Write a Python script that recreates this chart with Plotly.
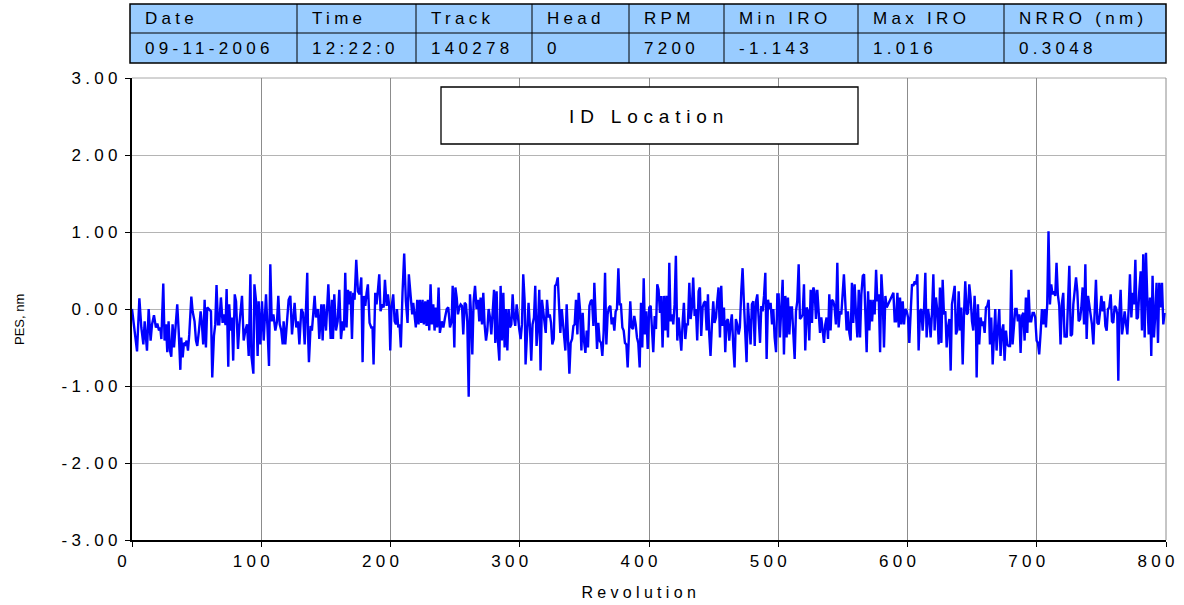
import plotly.graph_objects as go

# ---- data ----
rev = [
 0.0, 3.9, 5.7, 7.2, 8.8, 9.8, 11.6, 12.9, 14.4, 15.5, 17.0, 18.5, 19.6, 20.9, 21.9, 22.7, 24.2, 25.2, 26.3, 27.3,
 28.3, 29.4, 30.4, 31.4, 32.5, 35.0, 36.1, 37.4, 38.1, 39.2, 40.2, 41.2, 42.3, 43.3, 44.3, 45.9, 46.9, 48.4, 49.5, 50.5,
 51.8, 53.1, 54.1, 55.1, 56.2, 57.2, 58.2, 59.5, 61.1, 62.1, 63.4, 64.4, 65.4, 66.5, 67.5, 68.8, 70.1, 71.1, 72.4, 73.2,
 74.5, 75.2, 76.3, 77.3, 78.3,
 79.5, 80.5, 82.0, 83.1, 85.1, 86.4, 87.7, 89.0, 90.3, 91.6, 92.4, 93.9, 94.7, 96.0, 97.2, 98.0, 99.3, 100.6, 101.9, 103.7,
 104.7, 106.0, 107.0, 108.1, 109.4, 110.9, 112.2, 113.2, 114.3, 115.5, 116.6, 117.3, 118.6, 119.9, 121.2, 122.5, 123.8, 125.8, 127.1, 128.4,
 129.5, 131.0, 132.3, 133.6, 135.6, 136.2, 136.9, 138.2, 139.2, 141.3, 142.3, 143.9, 144.9, 146.5, 147.5, 148.5, 150.1, 151.9, 153.7, 154.7,
 155.5, 156.5, 157.8,
 159.1, 160.4, 161.7, 163.0, 164.0, 165.0, 166.0, 167.1, 168.1, 169.1, 170.2, 171.2, 172.2, 173.5, 174.8, 176.1, 177.4, 178.4, 179.4, 180.5,
 181.5, 182.5, 183.8, 185.1, 186.1, 186.9, 188.2, 189.2, 190.3, 191.3, 192.3, 193.6, 194.7, 195.7, 197.0, 198.0, 199.0, 199.8, 200.8, 202.1,
 203.2, 204.2, 205.0, 206.0, 207.0, 208.0, 209.3, 210.6, 211.9, 213.2, 214.2, 215.5, 216.8, 217.6, 218.6, 219.6, 220.7, 221.7, 222.7, 223.8,
 224.8, 225.8, 226.9, 227.9, 228.9, 230.0, 231.0, 232.0, 233.1, 234.1, 235.1, 236.1, 237.2, 238.2,
 239.6, 240.9, 242.2, 243.5, 244.7, 246.0, 247.3, 248.1, 249.4, 250.2, 251.2, 252.2, 253.2, 254.3, 255.3, 256.3, 257.4, 258.4, 259.4, 260.5,
 261.5, 262.5, 263.3, 264.3, 265.4, 266.6, 267.7, 268.7, 269.7, 270.8, 271.8, 272.8, 273.9, 274.9, 275.9, 277.0, 278.0, 279.0, 280.1, 281.1,
 282.1, 283.1, 284.2, 285.2, 286.2, 287.3, 288.3, 289.3, 290.4, 291.4, 292.4, 293.5, 294.5, 295.5, 296.5, 297.6, 298.9, 299.6, 300.7, 301.7,
 302.7, 303.8, 304.5, 305.8, 306.8, 307.9, 308.9, 309.9, 311.0, 312.0, 313.0, 314.1, 315.1, 316.1, 317.2, 318.2,
 320.1, 321.1, 322.2, 323.2, 324.2, 325.2, 326.3, 327.3, 328.3, 329.4, 330.4, 331.4, 332.5, 333.5, 334.5, 335.3, 336.3, 337.4, 338.4, 339.4,
 340.5, 341.5, 342.5, 343.5, 344.6, 345.6, 346.6, 347.7, 348.7, 349.7, 350.8, 351.8, 352.8, 353.9, 354.9, 355.9, 357.0, 357.7, 358.7, 359.8,
 360.8, 361.8, 362.9, 363.9, 364.9, 366.0, 367.0, 368.0, 369.0, 370.1, 371.1, 372.1, 373.2, 374.2, 375.2, 376.3, 377.3, 378.3, 379.4, 380.4,
 381.4, 382.5, 383.5, 384.5, 385.5, 386.6, 387.6, 388.6, 389.7, 390.7, 391.7, 392.8, 393.8, 394.8, 395.9, 396.9, 397.9, 399.0,
 400.2, 401.3, 402.3, 403.3, 404.4, 405.4, 406.4, 407.4, 408.5, 409.5, 410.5, 411.6, 412.6, 413.6, 414.7, 415.7, 416.7, 417.8, 418.8, 419.8,
 420.8, 421.9, 422.9, 423.9, 425.0, 426.0, 427.0, 428.1, 429.1, 430.1, 431.2, 432.2, 433.2, 434.2, 435.3, 436.3, 437.3, 438.4, 439.4, 440.4,
 441.5, 442.5, 443.5, 444.6, 445.6, 446.6, 447.6, 448.7, 449.7, 450.7, 451.8, 452.8, 453.8, 454.9, 455.9, 456.9, 458.0, 459.0, 460.0, 461.0,
 462.1, 463.1, 464.1, 465.2, 466.2, 467.2, 468.3, 469.3, 470.3, 471.4, 472.4, 473.4, 474.4, 475.5, 476.5, 477.5, 478.6, 479.6,
 480.7, 481.8, 482.8, 483.8, 484.9, 485.9, 486.9, 487.9, 489.0, 490.0, 491.0, 492.1, 493.1, 494.1, 495.2, 496.2, 497.2, 498.3, 499.3, 500.3,
 501.3, 502.4, 503.4, 504.4, 505.5, 506.5, 507.5, 508.6, 509.6, 510.6, 511.7, 512.7, 513.7, 514.7, 515.8, 516.8, 517.8, 518.9, 519.9, 520.9,
 522.0, 523.0, 524.0, 525.1, 526.1, 527.1, 528.1, 529.2, 530.2, 531.2, 532.3, 533.3, 534.3, 535.4, 536.4, 537.4, 538.5, 539.5, 540.5, 541.5,
 542.6, 543.6, 544.6, 545.7, 546.7, 547.7, 548.8, 549.8, 550.8, 551.9, 552.9, 553.9, 555.0, 556.0, 557.0, 558.0, 559.1, 560.1,
 561.2, 562.3, 563.3, 564.3, 565.4, 566.4, 567.4, 568.4, 569.5, 570.5, 571.5, 572.6, 573.6, 574.6, 575.7, 576.7, 577.7, 578.8, 579.8, 580.8,
 581.8, 582.9, 583.9, 584.9, 586.0, 587.0, 588.0, 589.1, 590.1, 591.1, 592.2, 593.2, 594.2, 595.2, 596.3, 597.3, 598.3, 599.4, 600.4, 601.4,
 602.5, 603.5, 604.5, 605.6, 606.6, 607.6, 608.6, 609.7, 610.7, 611.7, 612.8, 613.8, 614.8, 615.9, 616.9, 617.9, 619.0, 620.0, 621.0, 622.0,
 623.1, 624.1, 625.1, 626.2, 627.2, 628.2, 629.3, 630.3, 631.3, 632.4, 633.4, 634.4, 635.4, 636.5, 637.5, 638.5, 639.6, 640.6,
 641.6, 642.7, 643.7, 644.7, 645.8, 646.8, 647.8, 648.8, 649.9, 650.9, 651.9, 653.0, 653.5, 654.5, 655.5, 656.6, 657.6, 658.6, 659.7, 660.7,
 661.7, 662.8, 663.8, 664.8, 665.9, 666.9, 667.9, 668.9, 670.0, 671.0, 672.0, 673.1, 674.1, 675.1, 676.2, 677.2, 678.2, 679.3, 680.3, 681.3,
 682.3, 683.4, 684.4, 685.4, 686.5, 687.5, 688.5, 689.6, 690.6, 691.6, 692.7, 693.7, 694.7, 695.7, 696.8, 697.8, 698.8, 699.9, 700.9, 701.9,
 703.0, 704.0, 705.0, 706.1, 707.1, 708.1, 709.1, 710.2, 711.2, 712.2, 713.3, 714.3, 715.3, 716.3, 717.4, 718.4, 719.5, 720.5, 721.5,
 722.1, 723.2, 724.2, 725.2, 726.3, 727.3, 728.3, 729.3, 730.4, 731.4, 732.4, 733.5, 734.5, 735.5, 736.6, 737.6, 738.6, 739.7, 740.7, 741.7,
 742.7, 743.8, 744.8, 745.8, 746.9, 747.9, 748.9, 750.0, 751.0, 752.0, 753.1, 754.1, 755.1, 756.1, 757.2, 758.2, 759.2, 760.3, 761.3, 762.3,
 763.1, 763.9, 764.9, 766.0, 767.0, 768.0, 769.0, 770.1, 771.1, 772.1, 773.2, 774.2, 775.2, 776.3, 777.3, 778.3, 779.3, 780.4, 781.4, 782.4,
 783.5, 784.5, 785.5, 786.6, 787.6, 788.6, 789.6, 790.7, 791.7, 792.7, 793.8, 794.8, 795.8, 796.9, 797.9, 798.9,
]

pes = [
 0.00, -0.55, 0.14, -0.24, -0.46, -0.16, -0.54, 0.00, -0.41, -0.20, -0.08, -0.24, -0.19, -0.28, -0.24, -0.39, 0.33, -0.41, -0.20, -0.56,
 -0.16, -0.54, -0.62, -0.20, -0.50, 0.06, -0.28, -0.79, -0.37, -0.63, -0.44, -0.46, -0.41, -0.54, -0.33, 0.16, -0.03, -0.16, -0.41, -0.48,
 -0.28, -0.03, -0.20, -0.46, 0.12, -0.50, 0.02, 0.00, -0.03, -0.89, -0.35, -0.20, 0.31, -0.20, -0.20, 0.15, -0.18, -0.07, -0.21, 0.26,
 -0.75, 0.06, -0.28, -0.11, -0.67,
 0.19, 0.10, -0.52, -0.20, 0.17, -0.41, -0.28, -0.20, -0.61, 0.45, -0.61, -0.84, 0.32, 0.10, -0.61, 0.10, -0.46, 0.10, -0.41, 0.19,
 -0.20, -0.74, 0.58, -0.16, -0.07, -0.28, -0.16, 0.17, -0.20, -0.28, -0.46, -0.16, -0.46, -0.18, 0.12, 0.17, -0.33, 0.08, -0.24, -0.16,
 -0.46, 0.00, -0.05, -0.46, 0.47, -0.33, -0.69, -0.22, -0.28, 0.17, -0.11, 0.00, -0.39, 0.06, -0.41, 0.06, -0.28, 0.32, -0.39, 0.12,
 -0.39, 0.19, -0.28,
 -0.16, 0.25, -0.39, -0.16, -0.28, 0.47, -0.24, 0.25, 0.06, 0.23, -0.39, 0.21, 0.12, 0.64, 0.23, 0.19, 0.41, -0.69, 0.17, 0.04,
 0.21, 0.32, -0.18, -0.24, -0.24, -0.72, 0.21, 0.06, 0.25, 0.45, -0.03, 0.06, 0.02, 0.38, 0.04, 0.19, 0.04, -0.54, 0.02, 0.19,
 -0.16, -0.20, 0.00, -0.24, -0.20, -0.50, 0.21, 0.72, 0.10, -0.18, 0.45, 0.12, -0.07, 0.08, -0.05, -0.24, 0.12, -0.20, 0.12, -0.18,
 0.12, -0.20, 0.10, -0.22, 0.12, -0.28, 0.32, -0.20, 0.06, -0.28, 0.02, -0.24, 0.28, -0.31,
 -0.16, -0.24, -0.11, 0.00, 0.02, -0.24, -0.16, 0.30, -0.50, 0.28, 0.15, -0.07, 0.02, 0.06, 0.04, -0.33, 0.08, 0.06, -0.16, -1.14,
 0.19, -0.11, -0.59, 0.10, 0.30, 0.00, 0.12, -0.16, 0.15, -0.20, 0.21, -0.20, -0.41, -0.28, 0.00, -0.11, -0.33, 0.02, 0.25, -0.44,
 0.23, -0.41, -0.67, 0.30, -0.41, 0.21, -0.50, 0.00, -0.54, 0.00, -0.24, -0.20, 0.19, -0.11, -0.22, 0.06, -0.20, -0.26, -0.39, -0.20,
 0.45, 0.10, -0.72, -0.20, 0.08, -0.24, -0.67, -0.20, -0.11, 0.30, -0.48, -0.22, 0.25, -0.80, 0.12, -0.03,
 -0.31, 0.12, -0.11, -0.07, -0.18, -0.46, -0.39, 0.30, 0.32, 0.41, 0.06, -0.31, 0.00, -0.18, -0.33, -0.54, 0.06, -0.46, -0.84, -0.44,
 -0.39, -0.22, -0.20, 0.12, -0.33, 0.21, 0.00, -0.54, -0.05, -0.41, -0.57, -0.28, -0.50, 0.04, 0.10, 0.12, -0.22, 0.34, -0.22, -0.52,
 -0.18, -0.41, -0.44, -0.61, -0.31, 0.47, -0.46, -0.07, 0.02, 0.04, -0.20, -0.11, -0.28, -0.03, 0.00, 0.53, 0.06, 0.06, -0.24, -0.28,
 -0.44, -0.46, -0.76, -0.24, 0.10, -0.24, -0.26, -0.09, -0.20, -0.37, -0.44, -0.76, 0.08, -0.50, 0.40, -0.33, -0.03, -0.52,
 0.02, 0.04, -0.31, -0.56, -0.09, -0.26, 0.32, 0.25, -0.05, 0.17, -0.50, 0.17, -0.28, 0.17, -0.37, 0.60, -0.16, -0.07, -0.20, 0.06,
 0.69, -0.41, -0.11, -0.28, -0.54, -0.18, 0.08, -0.39, -0.20, -0.20, 0.34, -0.13, 0.02, 0.41, -0.09, 0.00, -0.41, 0.23, 0.28, -0.35,
 0.02, 0.08, 0.10, -0.28, 0.19, -0.33, -0.61, -0.20, 0.10, -0.18, -0.11, 0.10, 0.28, -0.37, 0.30, -0.22, 0.02, -0.56, -0.16, -0.13,
 -0.41, -0.20, -0.07, -0.48, -0.76, -0.13, -0.20, -0.33, -0.24, 0.23, 0.53, 0.10, -0.26, -0.69, 0.08, -0.20, -0.46, 0.06,
 0.10, -0.48, 0.10, 0.19, -0.20, -0.44, 0.04, -0.03, 0.17, 0.47, -0.65, 0.12, 0.00, 0.08, -0.20, 0.00, -0.37, -0.56, 0.19, 0.19,
 -0.37, -0.03, 0.38, -0.59, 0.17, -0.37, 0.15, -0.33, 0.02, 0.02, -0.41, -0.65, -0.03, 0.10, 0.58, -0.13, -0.11, -0.07, 0.32, -0.54,
 0.02, -0.03, -0.41, 0.25, -0.18, 0.28, 0.23, -0.13, 0.25, 0.02, -0.31, -0.11, -0.31, -0.44, -0.20, -0.11, -0.39, 0.19, -0.28, 0.12,
 0.10, 0.02, -0.20, 0.60, -0.24, -0.03, -0.07, 0.17, 0.45, 0.08, -0.28, -0.03, -0.31, -0.41, 0.34, -0.18, 0.32, -0.05,
 -0.37, 0.25, -0.37, 0.19, 0.43, 0.45, -0.03, -0.56, 0.23, -0.28, 0.12, -0.16, 0.12, -0.07, 0.51, 0.10, 0.19, -0.56, 0.45, 0.15,
 -0.50, 0.17, 0.02, 0.06, 0.10, 0.15, 0.19, 0.21, -0.16, -0.16, 0.21, -0.24, 0.15, -0.20, 0.10, -0.20, 0.00, -0.03, -0.11, -0.44,
 -0.03, 0.32, 0.30, 0.36, 0.32, 0.45, -0.54, -0.03, 0.00, -0.28, 0.00, 0.47, -0.37, 0.00, -0.13, -0.37, -0.03, 0.45, -0.28, 0.15,
 -0.03, -0.46, 0.28, -0.44, 0.38, -0.07, -0.03, -0.50, -0.24, -0.13, -0.80, 0.06, 0.17, 0.30, -0.33, -0.28, 0.23, -0.28,
 0.02, -0.72, -0.07, 0.36, -0.07, -0.05, 0.32, 0.15, -0.16, -0.28, 0.17, -0.24, -0.89, 0.06, -0.46, -0.11, -0.22, -0.16, -0.31, 0.02,
 0.04, 0.12, -0.46, -0.11, -0.72, -0.33, 0.00, -0.54, -0.16, 0.00, -0.61, -0.28, -0.20, -0.67, -0.28, -0.46, -0.48, -0.48, 0.51, -0.46,
 -0.24, 0.00, 0.00, -0.16, -0.07, -0.57, -0.09, -0.05, -0.41, 0.15, -0.31, 0.25, -0.16, -0.16, -0.05, -0.05, -0.11, -0.41, -0.44, -0.59,
 -0.31, 0.00, -0.20, 0.00, -0.24, 0.06, 1.01, 0.06, 0.32, 0.19, 0.23, 0.17, 0.60, 0.19, 0.04, -0.46, 0.08, 0.21, -0.37,
 -0.33, -0.37, 0.02, 0.56, -0.35, -0.33, 0.06, 0.23, 0.41, 0.23, -0.16, -0.13, 0.02, 0.28, -0.20, 0.58, -0.39, 0.17, 0.04, -0.03,
 -0.20, -0.46, 0.06, 0.38, -0.18, -0.20, -0.05, 0.17, -0.03, 0.10, -0.22, -0.28, 0.00, 0.02, 0.19, -0.16, -0.18, 0.04, 0.02, -0.07,
 -0.93, -0.05, 0.25, -0.33, -0.20, -0.03, -0.18, -0.33, 0.00, 0.45, -0.11, 0.21, 0.06, 0.64, -0.13, -0.11, 0.23, 0.49, -0.28, 0.71,
 -0.37, 0.73, 0.15, -0.33, 0.15, -0.61, 0.43, -0.37, -0.07, 0.34, -0.44, 0.34, 0.02, 0.34, -0.20, -0.05,
]

y_ticks = [-3, -2, -1, 0, 1, 2, 3]
y_tick_labels = ["-3.00", "-2.00", "-1.00", "0.00", "1.00", "2.00", "3.00"]
x_ticks = [0, 100, 200, 300, 400, 500, 600, 700, 800]

table_headers = ["Date", "Time", "Track", "Head", "RPM", "Min IRO", "Max IRO", "NRRO (nm)"]
table_values = ["09-11-2006", "12:22:0", "140278", "0", "7200", "-1.143", "1.016", "0.3048"]
title_box_text = "ID Location"
x_title = "Revolution"
y_title = "PES, nm"

# ---- layout constants (pixels) ----
W, H = 1184, 605
ML, MR, MT, MB = 132, 18, 78, 65
PW = W - ML - MR
PH = H - MT - MB


def px(x):
    return (x - ML) / PW


def py(y):
    return (H - MB - y) / PH


col_edges = [130, 297, 416, 532, 629, 724, 858, 1004, 1166]
row_edges = [4, 33, 63]
FONT = "Liberation Sans, Arial, sans-serif"

fig = go.Figure()
fig.add_trace(go.Scatter(x=rev, y=pes, mode="lines",
                         line=dict(color="#0000ff", width=2.4),
                         showlegend=False, hoverinfo="x+y"))

shapes = []
annotations = []

# table
shapes.append(dict(type="rect", xref="paper", yref="paper",
                   x0=px(col_edges[0]), x1=px(col_edges[-1]),
                   y0=py(row_edges[2]), y1=py(row_edges[0]),
                   fillcolor="#99ccff", line=dict(color="black", width=1.5), layer="above"))
shapes.append(dict(type="line", xref="paper", yref="paper",
                   x0=px(col_edges[0]), x1=px(col_edges[-1]),
                   y0=py(row_edges[1]), y1=py(row_edges[1]),
                   line=dict(color="black", width=1)))
for ce in col_edges[1:-1]:
    shapes.append(dict(type="line", xref="paper", yref="paper",
                       x0=px(ce), x1=px(ce), y0=py(row_edges[2]), y1=py(row_edges[0]),
                       line=dict(color="black", width=1)))
for i, (h, v) in enumerate(zip(table_headers, table_values)):
    for txt, (ra, rb) in ((h, (row_edges[0], row_edges[1])), (v, (row_edges[1], row_edges[2]))):
        annotations.append(dict(xref="paper", yref="paper",
                                x=px(col_edges[i] + 13), y=py((ra + rb) / 2),
                                xanchor="left", yanchor="middle", align="left", showarrow=False,
                                text=txt, font=dict(family=FONT, size=17, color="black")))

# ID Location box
shapes.append(dict(type="rect", xref="paper", yref="paper",
                   x0=px(441), x1=px(858), y0=py(144), y1=py(87),
                   fillcolor="white", line=dict(color="black", width=1.3), layer="above"))
annotations.append(dict(xref="paper", yref="paper", x=px(649), y=py(116),
                        xanchor="center", yanchor="middle", showarrow=False,
                        text=title_box_text, font=dict(family=FONT, size=19, color="black")))

# axis titles
annotations.append(dict(xref="paper", yref="paper", x=px(641), y=py(592),
                        xanchor="center", yanchor="middle", showarrow=False,
                        text=x_title, font=dict(family=FONT, size=16, color="black")))
annotations.append(dict(xref="paper", yref="paper", x=px(19), y=py(320),
                        xanchor="center", yanchor="middle", showarrow=False, textangle=-90,
                        text=y_title, font=dict(family=FONT, size=13, color="black")))

# edge grid lines (top and right)
shapes.append(dict(type="line", xref="paper", yref="paper", x0=0, x1=1, y0=1, y1=1,
                   line=dict(color="#a8a8a8", width=1), layer="below"))
shapes.append(dict(type="line", xref="paper", yref="paper", x0=1, x1=1, y0=0, y1=1,
                   line=dict(color="#8c8c8c", width=1), layer="below"))

fig.update_layout(
    width=W, height=H, autosize=False,
    margin=dict(l=ML, r=MR, t=MT, b=MB, autoexpand=False),
    paper_bgcolor="white", plot_bgcolor="white",
    shapes=shapes, annotations=annotations,
    font=dict(family=FONT, size=16, color="black"),
    showlegend=False,
)
fig.update_xaxes(range=[0, 800], tickvals=x_ticks, ticktext=[str(t) for t in x_ticks],
                 automargin=False,
                 showgrid=True, gridcolor="#8c8c8c", gridwidth=1,
                 showline=True, linecolor="black", linewidth=1.5,
                 ticks="outside", ticklen=5, tickcolor="black",
                 tickfont=dict(family=FONT, size=17, color="black"),
                 zeroline=False)
fig.update_yaxes(range=[-3, 3], tickvals=y_ticks, ticktext=y_tick_labels,
                 automargin=False,
                 showgrid=True, gridcolor="#b4b4b4", gridwidth=1,
                 showline=True, linecolor="black", linewidth=1.5,
                 ticks="outside", ticklen=5, tickcolor="black",
                 tickfont=dict(family=FONT, size=17, color="black"),
                 zeroline=False)

post_js = """
document.body.style.margin = '0';
document.body.style.overflow = 'hidden';
var gd = document.getElementById('{plot_id}');
function spaceText() {
  gd.querySelectorAll('text').forEach(function (t) {
    var s = t.textContent;
    if (s === 'PES, nm') { return; }
    t.style.letterSpacing = (s === 'ID Location') ? '5.8px' : '4.3px';
  });
  gd.querySelectorAll('.xtick text').forEach(function (t) {
    t.setAttribute('dx', '-8');
  });
}
spaceText();
gd.on('plotly_afterplot', spaceText);
"""

fig.write_html("out.html", post_script=post_js, config={"displayModeBar": False})
